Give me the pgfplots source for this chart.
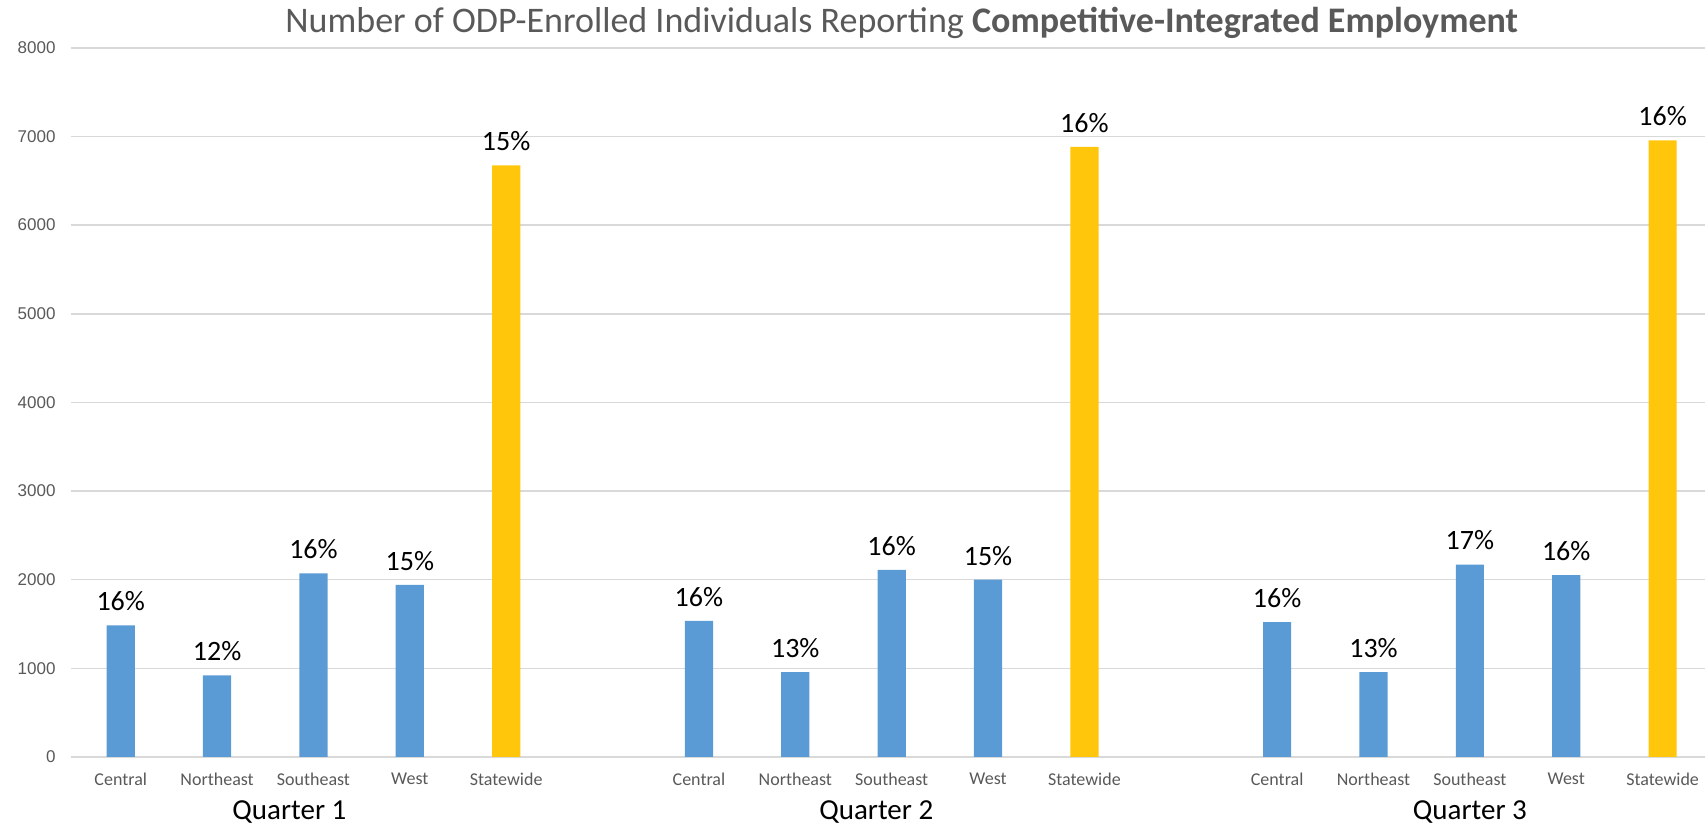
\documentclass[border=0pt]{standalone}
\usepackage{fontspec}
\setmainfont{Carlito}
\newfontfamily\arialfont{Liberation Sans}
\usepackage{pgfplots}
\pgfplotsset{compat=1.18}

\definecolor{barblue}{HTML}{5B9BD5}
\definecolor{bargold}{HTML}{FFC60B}
\definecolor{gridgray}{HTML}{D9D9D9}
\definecolor{textgray}{HTML}{595959}

\begin{document}
\begin{tikzpicture}
\begin{axis}[
    name=main,
    scale only axis,
    width=817pt, height=354.5pt,
    xmin=-0.52, xmax=16.44,
    ymin=0, ymax=8000,
    ytick={0,1000,...,8000},
    axis line style={draw=none},
    major tick length=0pt,
    ymajorgrids,
    grid style={gridgray, line width=0.8pt},
    xtick={0,1,2,3,4,6,7,8,9,10,12,13,14,15,16},
    xticklabels={Central,Northeast,Southeast,West,Statewide,
                 Central,Northeast,Southeast,West,Statewide,
                 Central,Northeast,Southeast,West,Statewide},
    xticklabel style={font=\fontsize{9}{10}\selectfont, text=textgray, yshift=-4.5pt},
    yticklabel style={font=\arialfont\fontsize{8.5}{10}\selectfont, text=textgray,
        /pgf/number format/assume math mode=true, xshift=-4pt},
    scaled y ticks=false,
    y tick label style={/pgf/number format/1000 sep={}},
    extra x ticks={1.75,7.84,14},
    extra x tick labels={Quarter 1,Quarter 2,Quarter 3},
    extra x tick style={xticklabel style={font=\fontsize{14.5}{16}\selectfont,
        text=black, anchor=center, yshift=-23pt}},
    title={Number of ODP-Enrolled Individuals Reporting \textbf{Competitive-Integrated Employment}},
    title style={font=\fontsize{18}{20}\selectfont, text=textgray,
        at={(0.5,1)}, anchor=center, yshift=6.5pt, xshift=7pt},
    ybar, bar width=14.1pt, bar shift=0pt,
    point meta=explicit symbolic,
    nodes near coords={\pgfplotspointmeta\%},
    nodes near coords style={font=\fontsize{14}{16}\selectfont, text=black,
        inner sep=1pt, yshift=6pt},
]
% regions
\addplot[draw=none, fill=barblue] coordinates {
    (0,1485) [16] (1,920) [12] (2,2070) [16] (3,1940) [15]
    (6,1535) [16] (7,957) [13] (8,2110) [16] (9,2000) [15]
    (12,1520) [16] (13,957) [13] (14,2170) [17] (15,2050) [16]
};
% statewide
\addplot[draw=none, fill=bargold] coordinates {
    (4,6675) [15] (10,6883) [16] (16,6957) [16]
};
\end{axis}
\pgfresetboundingbox
\path[use as bounding box] ([xshift=-35.3pt, yshift=-35.6pt]main.south west)
    rectangle ([yshift=23.9pt]main.north east);
\end{tikzpicture}
\end{document}
